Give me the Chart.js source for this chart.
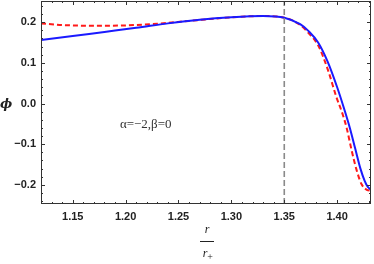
<!DOCTYPE html>
<html lang="en">
<head>
    <meta charset="UTF-8">
    <title>phi vs r/r+</title>
    <style>
        body { margin: 0; background: #fff; }
        .chart-box { width: 374px; height: 264px; position: relative; }
    </style>
</head>
<body>
    <div class="chart-box">
        <canvas id="phiChart"></canvas>
    </div>

    <script src="https://cdn.jsdelivr.net/npm/chart.js"></script>
    <script>
        // datos
        const rBlue = [1.12, 1.15, 1.18, 1.21, 1.24, 1.27, 1.30, 1.33, 1.35, 1.365, 1.373, 1.382, 1.391, 1.400, 1.406, 1.412, 1.417, 1.422, 1.426, 1.429, 1.432];
        const phiBlue = [0.156, 0.166, 0.176, 0.186, 0.197, 0.206, 0.212, 0.215, 0.211, 0.195, 0.178, 0.150, 0.103, 0.040, -0.008, -0.060, -0.110, -0.160, -0.190, -0.205, -0.212];

        const rRed = [1.12, 1.14, 1.17, 1.20, 1.23, 1.26, 1.30, 1.33, 1.35, 1.365, 1.373, 1.382, 1.3915, 1.399, 1.405, 1.409, 1.4135, 1.418, 1.423, 1.428, 1.432];
        const phiRed = [0.197, 0.193, 0.191, 0.192, 0.196, 0.203, 0.212, 0.215, 0.211, 0.193, 0.173, 0.143, 0.081, 0.018, -0.025, -0.060, -0.113, -0.160, -0.198, -0.212, -0.214];

        const rLine = 1.35;
        const xMin = 1.12, xMax = 1.432;
        const yMin = -0.247, yMax = 0.252;
        const xTicks = [1.15, 1.20, 1.25, 1.30, 1.35, 1.40];
        const yTicks = [-0.2, -0.1, 0.0, 0.1, 0.2];

        const toPts = (xs, ys) => xs.map((x, i) => ({ x: x, y: ys[i] }));

        // marco estilo Mathematica con ticks hacia dentro
        const framePlugin = {
            id: 'frame',
            afterDraw(chart) {
                const ctx = chart.ctx;
                const a = chart.chartArea;
                const xs = chart.scales.x, ys = chart.scales.y;
                ctx.save();
                ctx.strokeStyle = '#333';
                ctx.lineWidth = 1;
                ctx.strokeRect(a.left + 0.5, a.top + 0.5, a.right - a.left - 1, a.bottom - a.top - 1);

                ctx.beginPath();
                for (let i = 112; i <= 143; i++) {
                    const v = i / 100;
                    if (v < xMin - 1e-9 || v > xMax + 1e-9) continue;
                    const len = (i % 5 === 0) ? 4 : 2;
                    const px = Math.round(xs.getPixelForValue(v)) + 0.5;
                    ctx.moveTo(px, a.bottom); ctx.lineTo(px, a.bottom - len);
                    ctx.moveTo(px, a.top); ctx.lineTo(px, a.top + len);
                }
                for (let i = -12; i <= 12; i++) {
                    const v = i / 50;
                    if (v < yMin || v > yMax) continue;
                    const len = (i % 5 === 0) ? 4 : 2;
                    const py = Math.round(ys.getPixelForValue(v)) + 0.5;
                    ctx.moveTo(a.left, py); ctx.lineTo(a.left + len, py);
                    ctx.moveTo(a.right, py); ctx.lineTo(a.right - len, py);
                }
                ctx.stroke();

                // etiqueta eje y
                ctx.fillStyle = '#222';
                ctx.font = 'italic bold 13px "DejaVu Serif"';
                ctx.textAlign = 'center';
                ctx.textBaseline = 'middle';
                ctx.fillText('\u03D5', 6, ys.getPixelForValue(0) + 1);

                // etiqueta eje x: r / r+
                const cx = 207;
                ctx.font = 'italic 12px "Liberation Serif"';
                ctx.fillText('r', cx, 230);
                ctx.beginPath();
                ctx.moveTo(cx - 7, 241.5); ctx.lineTo(cx + 7, 241.5);
                ctx.lineWidth = 1;
                ctx.strokeStyle = '#222';
                ctx.stroke();
                ctx.fillText('r', cx - 2, 254);
                ctx.font = '10px "Liberation Serif"';
                ctx.fillText('+', cx + 3, 257);

                // anotacion
                ctx.font = '13px "Liberation Serif"';
                ctx.fillStyle = '#333';
                ctx.fillText('\u03B1=\u22122,\u03B2=0', xs.getPixelForValue(1.219), ys.getPixelForValue(-0.052));
                ctx.restore();
            }
        };

        const phiCtx = document.getElementById('phiChart');
        const phiChart = new Chart(phiCtx, {
            type: 'line',
            data: {
                datasets: [
                    {
                        label: 'linea',
                        data: [{ x: rLine, y: yMin }, { x: rLine, y: yMax }],
                        borderColor: '#8a8a8a',
                        borderWidth: 1.6,
                        borderDash: [6, 3],
                        pointRadius: 0
                    },
                    {
                        label: 'azul',
                        data: toPts(rBlue, phiBlue),
                        borderColor: '#1a1aff',
                        borderWidth: 2,
                        pointRadius: 0,
                        cubicInterpolationMode: 'monotone'
                    },
                    {
                        label: 'rojo',
                        data: toPts(rRed, phiRed),
                        borderColor: '#ff1a1a',
                        borderWidth: 2,
                        borderDash: [5, 3],
                        pointRadius: 0,
                        cubicInterpolationMode: 'monotone'
                    }
                ]
            },
            options: {
                responsive: true,
                maintainAspectRatio: false,
                animation: false,
                layout: { padding: { top: 1, right: 3, left: 0, bottom: 0 } },
                plugins: {
                    legend: { display: false },
                    tooltip: { enabled: false }
                },
                scales: {
                    x: {
                        type: 'linear',
                        min: xMin,
                        max: xMax,
                        afterFit: s => { s.height = 60; s.paddingLeft = 0; s.paddingRight = 0; },
                        afterBuildTicks: s => { s.ticks = xTicks.map(v => ({ value: v })); },
                        grid: { display: false, drawTicks: false },
                        border: { display: false },
                        ticks: {
                            padding: 6,
                            color: '#222',
                            font: { family: '"Liberation Sans", Arial', size: 11, weight: 'bold' },
                            callback: v => v.toFixed(2)
                        }
                    },
                    y: {
                        min: yMin,
                        max: yMax,
                        afterFit: s => { s.width = 41; s.paddingTop = 0; s.paddingBottom = 0; },
                        afterBuildTicks: s => { s.ticks = yTicks.map(v => ({ value: v })); },
                        grid: { display: false, drawTicks: false },
                        border: { display: false },
                        ticks: {
                            padding: 5,
                            color: '#222',
                            font: { family: '"Liberation Sans", Arial', size: 11, weight: 'bold' },
                            callback: v => (Math.abs(v) < 1e-9 ? '0.0' : v.toFixed(1).replace('-', '\u2212'))
                        }
                    }
                }
            },
            plugins: [framePlugin]
        });
    </script>
</body>
</html>
